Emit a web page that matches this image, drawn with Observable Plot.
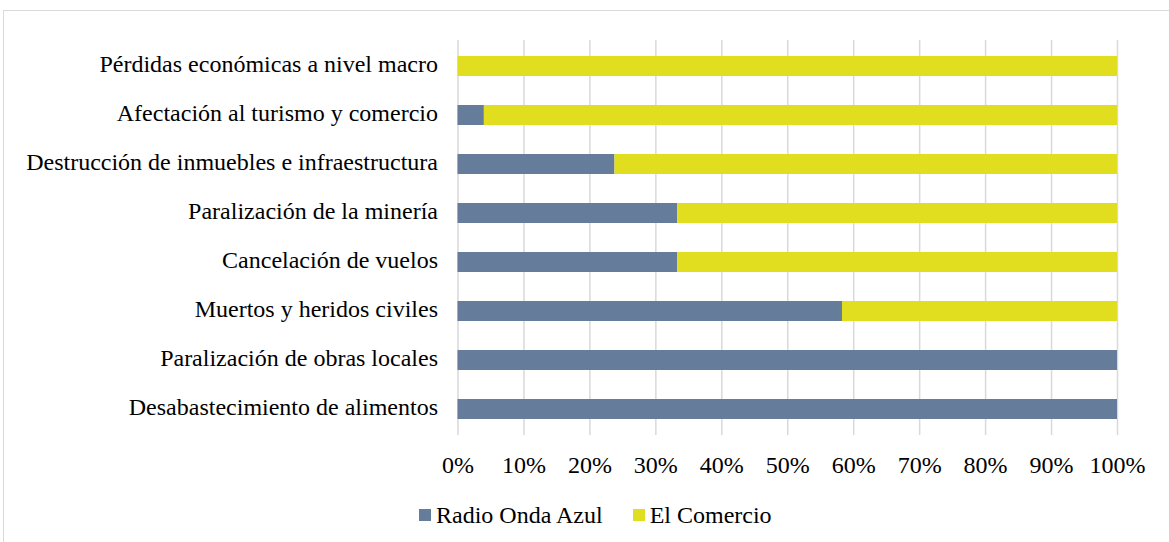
<!DOCTYPE html>
<html>
<head>
<meta charset="utf-8">
<script src="https://cdn.jsdelivr.net/npm/d3@7"></script>
<script src="https://cdn.jsdelivr.net/npm/@observablehq/plot@0.6"></script>
<style>
  body { margin: 0; background: #fff; font-family: "Liberation Serif", "Times New Roman", serif; }
  #frame { position: absolute; left: 3px; top: 10px; width: 1200px; height: 600px; border: 1px solid #d9d9d9; box-sizing: border-box; }
  #chart { position: absolute; left: 0; top: 0; }
  #legend { position: absolute; left: 419px; top: 501px; font-size: 24px; line-height: 28px; color: #000; display: flex; align-items: center; white-space: nowrap; }
  .item { display: flex; align-items: center; }
  .sw { width: 12px; height: 12px; display: inline-block; margin-right: 5px; }
</style>
</head>
<body>
<div id="frame"></div>
<div id="chart"></div>
<div id="legend"></div>
<script>
const categories = [
  "Pérdidas económicas a nivel macro",
  "Afectación al turismo y comercio",
  "Destrucción de inmuebles e infraestructura",
  "Paralización de la minería",
  "Cancelación de vuelos",
  "Muertos y heridos civiles",
  "Paralización de obras locales",
  "Desabastecimiento de alimentos"
];
const series = ["Radio Onda Azul", "El Comercio"];
const radioOndaAzul = [0, 4, 23.8, 33.3, 33.3, 58.3, 100, 100];
const elComercio = [100, 96, 76.2, 66.7, 66.7, 41.7, 0, 0];
const colors = ["#657C9A", "#E1DD1F"];
const xTicks = [0, 10, 20, 30, 40, 50, 60, 70, 80, 90, 100];

const data = [];
categories.forEach((c, i) => {
  data.push({cat: c, series: series[0], value: radioOndaAzul[i] / 100});
  data.push({cat: c, series: series[1], value: elComercio[i] / 100});
});

const chart = Plot.plot({
  width: 1169,
  height: 490,
  marginLeft: 457.5,
  marginRight: 52,
  marginTop: 40,
  marginBottom: 55,
  style: {fontFamily: "'Liberation Serif', 'Times New Roman', serif", fontSize: "24px", color: "#000", background: "transparent"},
  x: {domain: [0, 1]},
  y: {domain: categories, paddingInner: 0.6, paddingOuter: 0.3},
  color: {domain: series, range: colors},
  marks: [
    Plot.gridX(xTicks.map(d => d / 100), {stroke: "#d9d9d9", strokeWidth: 1.5, strokeOpacity: 1}),
    Plot.barX(data, Plot.stackX({y: "cat", x: "value", fill: "series", order: series})),
    Plot.axisX(xTicks.map(d => d / 100), {tickSize: 0, tickPadding: 20, tickFormat: d => Math.round(d * 100) + "%", label: null, fill: "#000"}),
    Plot.axisY({tickSize: 0, tickPadding: 20, label: null, fill: "#000", dy: -2})
  ]
});
document.getElementById("chart").appendChild(chart);

const legend = document.getElementById("legend");
series.forEach((s, i) => {
  const item = document.createElement("span");
  item.className = "item";
  if (i > 0) item.style.marginLeft = "30px";
  const sw = document.createElement("span");
  sw.className = "sw";
  sw.style.background = colors[i];
  item.appendChild(sw);
  item.appendChild(document.createTextNode(s));
  legend.appendChild(item);
});
</script>
</body>
</html>
